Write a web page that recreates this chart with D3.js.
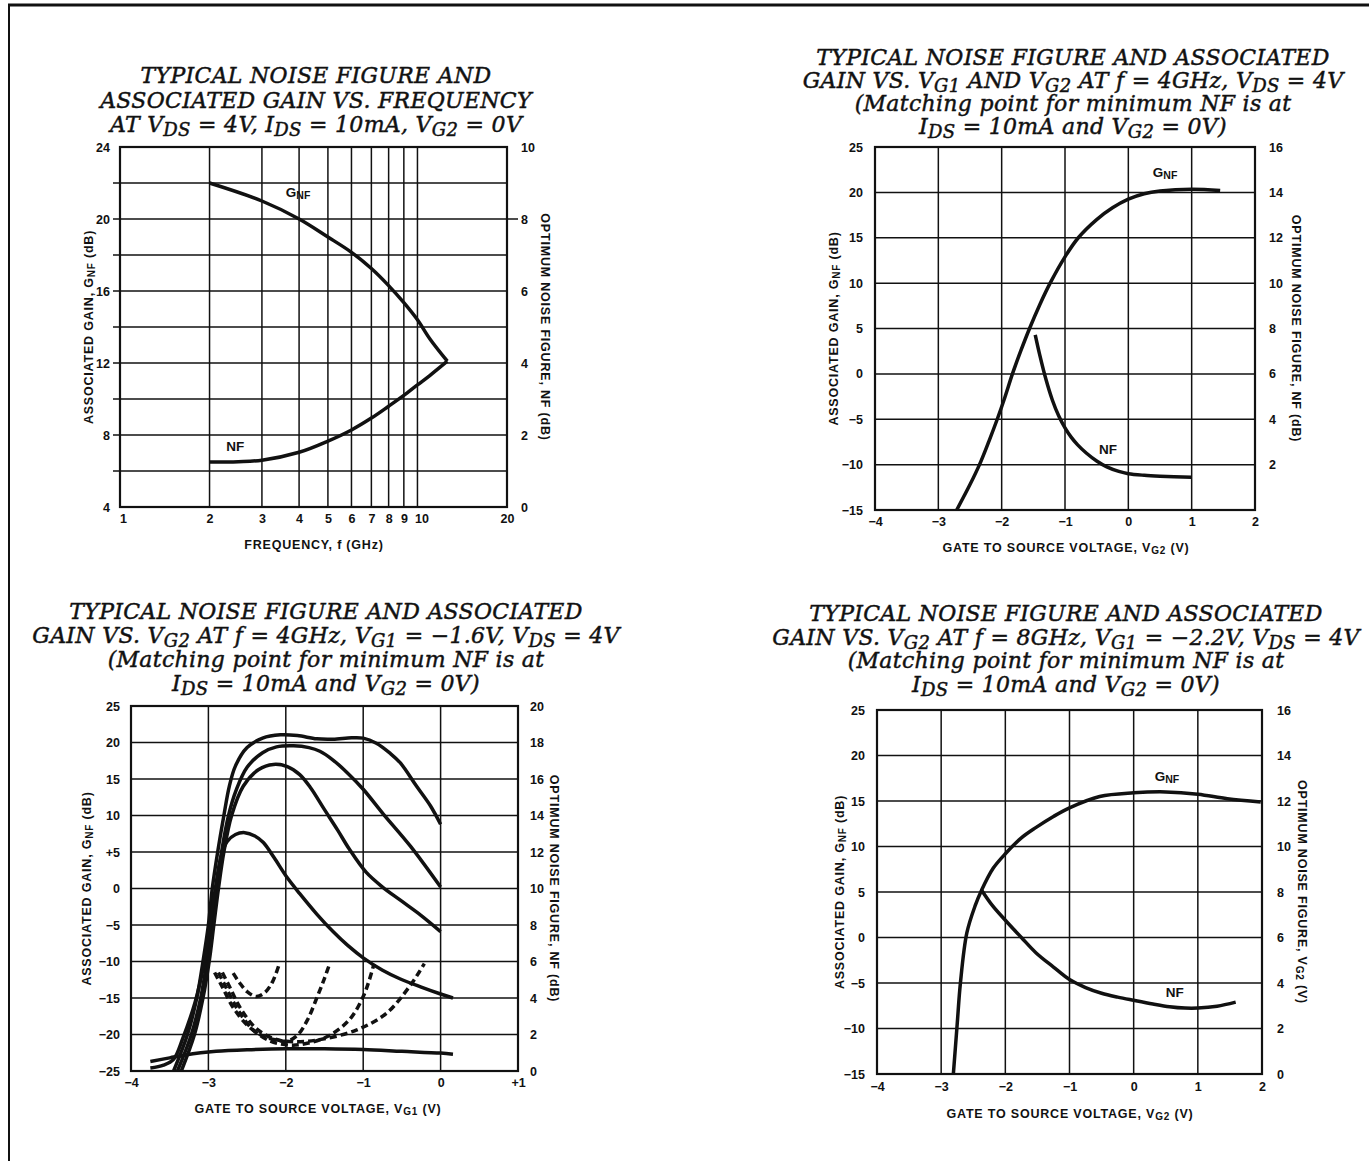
<!DOCTYPE html>
<meta charset="utf-8">
<style>
  body { margin: 0; background: #fff; }
  svg text { fill: #111; white-space: pre; }
  .tick text { font: bold 12.5px "Liberation Sans", Arial, sans-serif; }
  .tlabel { font: bold 13.5px "Liberation Sans", Arial, sans-serif; }
  .atitle { font: bold 12.5px "Liberation Sans", Arial, sans-serif; letter-spacing: 0.8px; }
  .ctitle { font: italic 22px "DejaVu Serif", serif; letter-spacing: 0.3px; stroke: #111; stroke-width: 0.45; }
  .curve { fill: none; stroke: #111; stroke-width: 3.5; }
  .grid { stroke: #111; stroke-width: 1.5; }
</style>
<svg width="1369" height="1161"></svg>
<script src="https://cdn.jsdelivr.net/npm/d3@7"></script>
<script>

// ---- top left: NF and gain vs frequency ----
const freqGain = [2, 3, 4, 5, 6, 7, 8, 9, 10, 11, 12.6];
const gnfFreq  = [22.0, 21.0, 20.0, 19.0, 18.15, 17.25, 16.3, 15.35, 14.4, 13.35, 12.1];
const freqNf   = [2, 2.5, 3, 4, 5, 6, 7, 8, 9, 10, 11, 12.6];
const nfFreq   = [1.25, 1.26, 1.3, 1.52, 1.83, 2.14, 2.47, 2.8, 3.1, 3.39, 3.65, 4.05];
const freqTicks = [1, 2, 3, 4, 5, 6, 7, 8, 9, 10, 20];

// ---- top right: vs VG2 at 4GHz ----
const vg2Gain4 = [-2.71, -2.5, -2.35, -2.2, -2.07, -1.95, -1.83, -1.7, -1.56, -1.4, -1.235, -1.0, -0.79, -0.5, -0.25, 0, 0.25, 0.5, 1.0, 1.45];
const gnf4     = [-15, -12.2, -10, -7.4, -5, -2.6, 0, 2.5, 5, 7.6, 10, 12.9, 15, 17.0, 18.3, 19.25, 19.85, 20.15, 20.35, 20.2];
const vg2Nf4   = [-1.47, -1.4, -1.3, -1.2, -1.1, -1.0, -0.9, -0.8, -0.66, -0.5, -0.34, -0.15, 0, 0.25, 0.5, 1.0];
const nf4      = [7.72, 6.85, 5.75, 4.85, 4.15, 3.62, 3.2, 2.87, 2.5, 2.16, 1.9, 1.7, 1.6, 1.53, 1.49, 1.44];

// ---- bottom left: vs VG1 (solid = gain, dashed = NF) ----
const blGainA = [[-3.45,-25],[-3.27,-20],[-3.15,-15],[-3.07,-10],[-3.0,-5],[-2.95,0],[-2.88,5],[-2.8,10],[-2.73,14],[-2.65,16.8],[-2.5,19.3],[-2.3,20.6],[-2.07,21.05],[-1.85,20.95],[-1.6,20.5],[-1.39,20.45],[-1.15,20.65],[-1.0,20.6],[-0.83,19.9],[-0.65,18.5],[-0.52,17.2],[-0.31,14.0],[-0.13,11.3],[0,8.8]];
const blGainB = [[-3.4,-25],[-3.22,-20],[-3.1,-15],[-3.02,-10],[-2.96,-5],[-2.9,0],[-2.83,5],[-2.74,10],[-2.64,13.5],[-2.5,16.6],[-2.3,18.6],[-2.12,19.4],[-1.9,19.55],[-1.7,19.3],[-1.56,18.8],[-1.39,17.6],[-1.2,15.8],[-1.0,13.6],[-0.74,10.2],[-0.39,5.8],[0,0.2]];
const blGainC = [[-3.35,-25],[-3.18,-20],[-3.07,-15],[-2.99,-10],[-2.93,-5],[-2.87,0],[-2.8,5],[-2.7,10],[-2.55,14],[-2.35,16.3],[-2.16,17.0],[-1.98,16.7],[-1.82,15.6],[-1.68,13.8],[-1.5,10.8],[-1.33,8.0],[-1.18,5.4],[-0.96,2.2],[-0.75,0.2],[-0.52,-1.6],[-0.25,-3.7],[0,-5.9]];
const blGainD = [[-3.75,-24.6],[-3.58,-24.2],[-3.45,-23.4],[-3.33,-20.5],[-3.17,-15.5],[-3.06,-10.5],[-2.98,-5],[-2.91,0],[-2.84,4.2],[-2.76,6.4],[-2.65,7.4],[-2.53,7.65],[-2.4,7.2],[-2.29,6.3],[-2.15,4.2],[-1.99,1.6],[-1.82,-0.7],[-1.6,-3.5],[-1.39,-5.9],[-1.2,-7.8],[-1.0,-9.5],[-0.75,-11.2],[-0.52,-12.4],[-0.25,-13.5],[0,-14.45],[0.16,-15.0]];
const blGainE = [[-3.75,-23.7],[-3.5,-23.2],[-3.3,-22.8],[-3.1,-22.5],[-2.9,-22.3],[-2.5,-22.1],[-2.0,-21.95],[-1.5,-21.95],[-1.0,-22.05],[-0.5,-22.3],[0,-22.55],[0.16,-22.7]];
const blNfA = [[-2.68,5.36],[-2.6,4.85],[-2.5,4.35],[-2.38,4.08],[-2.27,4.3],[-2.17,4.9],[-2.08,5.92]];
const blNfB = [[-2.92,5.4],[-2.82,4.6],[-2.68,3.48],[-2.5,2.52],[-2.3,1.92],[-2.1,1.68],[-1.98,1.64],[-1.85,1.96],[-1.72,2.8],[-1.6,4.0],[-1.5,5.08],[-1.43,5.92]];
const blNfC = [[-2.87,5.4],[-2.77,4.56],[-2.62,3.36],[-2.42,2.24],[-2.2,1.64],[-2.0,1.44],[-1.82,1.44],[-1.47,1.88],[-1.18,2.8],[-1.0,4.08],[-0.92,5.0],[-0.86,5.88]];
const blNfD = [[-2.82,5.4],[-2.72,4.56],[-2.58,3.4],[-2.38,2.32],[-2.15,1.76],[-1.9,1.6],[-1.56,1.72],[-1.09,2.24],[-0.7,3.16],[-0.4,4.64],[-0.28,5.4],[-0.21,5.88]];

// ---- bottom right: vs VG2 at 8GHz ----
const vg2Gain8 = [-2.81, -2.75, -2.7, -2.6, -2.47, -2.37, -2.19, -2.0, -1.75, -1.52, -1.25, -1.0, -0.53, 0, 0.5, 1.0, 1.46, 1.98];
const gnf8     = [-15, -9.5, -5, 0.5, 3.5, 5.2, 7.6, 9.2, 10.95, 12.1, 13.3, 14.25, 15.5, 15.9, 16.0, 15.75, 15.25, 14.9];
const vg2Nf8   = [-2.37, -2.2, -2.0, -1.75, -1.52, -1.25, -1.0, -0.75, -0.5, -0.25, 0, 0.3, 0.56, 0.8, 1.0, 1.3, 1.59];
const nf8      = [8.08, 7.4, 6.76, 6.0, 5.32, 4.7, 4.15, 3.8, 3.55, 3.38, 3.24, 3.08, 2.96, 2.9, 2.9, 2.98, 3.16];

const voltTicks = [-4, -3, -2, -1, 0, 1, 2];
const minus = v => (v < 0 ? "\u2212" + Math.abs(v) : "" + v);

var svg = d3.select("svg");

// page frame
svg.append("line").attr("x1", 8).attr("x2", 1369).attr("y1", 5).attr("y2", 5).attr("stroke", "#111").attr("stroke-width", 3);
svg.append("line").attr("x1", 9).attr("x2", 9).attr("y1", 5).attr("y2", 1161).attr("stroke", "#111").attr("stroke-width", 2);

// text with _{sub} parts
function rich(sel, str, shift, scale) {
    let low = false;
    str.split(/(_\{[^}]*\})/).filter(s => s.length).forEach(p => {
        const sub = p.startsWith("_{");
        const t = sel.append("tspan").text(sub ? p.slice(2, -1) : p);
        if (sub) {
            t.attr("font-size", scale + "em");
            if (!low) { t.attr("dy", shift); low = true; }
        } else if (low) { t.attr("dy", -shift); low = false; }
    });
}

function drawChart(c) {
    const g = svg.append("g");
    const [x0, y0, x1, y1] = c.box;
    const x = (c.log ? d3.scaleLog() : d3.scaleLinear()).domain(c.xDomain).range([x0, x1]);
    const yL = d3.scaleLinear().domain(c.yLDomain).range([y1, y0]);
    const yR = d3.scaleLinear().domain(c.yRDomain).range([y1, y0]);

    // grid
    g.selectAll("line.h").data(c.hGrid).join("line").attr("class", "grid")
        .attr("x1", x0 - (c.stub || 0)).attr("x2", x1).attr("y1", d => yL(d)).attr("y2", d => yL(d));
    g.selectAll("line.v").data(c.vGrid).join("line").attr("class", "grid")
        .attr("x1", d => x(d)).attr("x2", d => x(d)).attr("y1", y0).attr("y2", y1);
    (c.rightStub || []).forEach(v => g.append("line").attr("class", "grid")
        .attr("x1", x1).attr("x2", x1 + 11).attr("y1", yL(v)).attr("y2", yL(v)));
    g.append("rect").attr("x", x0).attr("y", y0).attr("width", x1 - x0).attr("height", y1 - y0)
        .attr("fill", "none").attr("stroke", "#111").attr("stroke-width", 2.2);

    // tick labels
    const noDomain = s => s.select(".domain").remove();
    g.append("g").attr("transform", `translate(0,${y1})`)
        .call(d3.axisBottom(x).tickValues(c.xTicks).tickFormat(c.xFmt).tickSize(0).tickPadding(c.padB))
        .call(noDomain)
        .call(s => s.selectAll("text").attr("dx", (d, i) => (c.xShift ? c.xShift[i] : 0)));
    g.append("g").attr("transform", `translate(${x0},0)`)
        .call(d3.axisLeft(yL).tickValues(c.yLTicks).tickFormat(c.yLFmt).tickSize(0).tickPadding(c.padL))
        .call(noDomain);
    g.append("g").attr("transform", `translate(${x1},0)`)
        .call(d3.axisRight(yR).tickValues(c.yRTicks).tickFormat(d3.format("d")).tickSize(0).tickPadding(c.padR))
        .call(noDomain);

    // axis titles
    const lt = g.append("text").attr("class", "atitle").attr("text-anchor", "middle")
        .attr("transform", `translate(${c.leftX},${(y0 + y1) / 2}) rotate(-90)`).attr("dy", "0.35em");
    rich(lt, "ASSOCIATED GAIN, G_{NF} (dB)", 2, 0.8);
    const rt = g.append("text").attr("class", "atitle").attr("text-anchor", "middle")
        .attr("transform", `translate(${c.rightX},${(y0 + y1) / 2}) rotate(90)`).attr("dy", "0.35em");
    rich(rt, c.rightTitle, 2, 0.8);
    const bt = g.append("text").attr("class", "atitle").attr("text-anchor", "middle")
        .attr("x", c.bottomX).attr("y", c.bottomY);
    rich(bt, c.bottomTitle, 2, 0.8);

    // chart title
    c.title.forEach((line, i) => {
        const t = g.append("text").attr("class", "ctitle").attr("text-anchor", "middle")
            .attr("x", c.titleX).attr("y", c.titleY + i * c.titleGap);
        rich(t, line, 4, 0.82);
    });

    // curves
    c.series.forEach(s => {
        const ys = s.axis === "R" ? yR : yL;
        g.append("path").attr("class", "curve")
            .attr("stroke-dasharray", s.dash ? "7,4" : null)
            .attr("d", d3.line().x(d => x(d[0])).y(d => ys(d[1])).curve(d3.curveCatmullRom.alpha(0.5))(s.pts));
    });

    // curve labels
    (c.labels || []).forEach(l => {
        const t = g.append("text").attr("class", "tlabel").attr("text-anchor", "middle")
            .attr("x", x(l.at[0])).attr("y", yL(l.at[1]));
        rich(t, l.text, 2, 0.78);
    });
}

drawChart({
    box: [120, 147, 507, 507], log: true, xDomain: [1, 20], yLDomain: [4, 24], yRDomain: [0, 10],
    hGrid: d3.range(6, 24, 2), vGrid: [2, 3, 4, 5, 6, 7, 8, 9, 10], stub: 7, rightStub: [20],
    xTicks: freqTicks, xFmt: d => d, xShift: [3, 0, 0, 0, 0, 0, 0, 0, 0, 4, 0], padB: 7,
    yLTicks: d3.range(4, 25, 4), yLFmt: d => d, padL: 10,
    yRTicks: d3.range(0, 11, 2), padR: 14,
    leftX: 89, rightX: 545, bottomX: 314, bottomY: 549,
    rightTitle: "OPTIMUM NOISE FIGURE, NF (dB)", bottomTitle: "FREQUENCY, f (GHz)",
    title: ["TYPICAL NOISE FIGURE AND", "ASSOCIATED GAIN VS. FREQUENCY", "AT V_{DS} = 4V, I_{DS} = 10mA, V_{G2} = 0V"],
    titleX: 316, titleY: 83, titleGap: 24.5,
    series: [
        { pts: d3.zip(freqGain, gnfFreq), axis: "L" },
        { pts: d3.zip(freqNf, nfFreq), axis: "R" }
    ],
    labels: [{ text: "G_{NF}", at: [3.97, 21.2] }, { text: "NF", at: [2.44, 7.1] }]
});

drawChart({
    box: [875, 147, 1255, 510], xDomain: [-4, 2], yLDomain: [-15, 25], yRDomain: [0, 16],
    hGrid: d3.range(-10, 25, 5), vGrid: [-3, -2, -1, 0, 1],
    xTicks: voltTicks, xFmt: minus, padB: 7,
    yLTicks: d3.range(-15, 26, 5), yLFmt: minus, padL: 12,
    yRTicks: d3.range(2, 17, 2), padR: 14,
    leftX: 834, rightX: 1296, bottomX: 1066, bottomY: 552,
    rightTitle: "OPTIMUM NOISE FIGURE, NF (dB)", bottomTitle: "GATE TO SOURCE VOLTAGE, V_{G2} (V)",
    title: ["TYPICAL NOISE FIGURE AND ASSOCIATED", "GAIN VS. V_{G1} AND V_{G2} AT f = 4GHz, V_{DS} = 4V",
            "(Matching point for minimum NF is at", "I_{DS} = 10mA and V_{G2} = 0V)"],
    titleX: 1073, titleY: 65, titleGap: 23,
    series: [
        { pts: d3.zip(vg2Gain4, gnf4), axis: "L" },
        { pts: d3.zip(vg2Nf4, nf4), axis: "R" }
    ],
    labels: [{ text: "G_{NF}", at: [0.58, 21.7] }, { text: "NF", at: [-0.32, -8.8] }]
});

drawChart({
    box: [131, 706, 518, 1071], xDomain: [-4, 1], yLDomain: [-25, 25], yRDomain: [0, 20],
    hGrid: d3.range(-20, 25, 5), vGrid: [-3, -2, -1, 0],
    xTicks: [-4, -3, -2, -1, 0, 1], xFmt: d => (d > 0 ? "+" + d : minus(d)), padB: 7,
    yLTicks: d3.range(-25, 26, 5), yLFmt: d => (d === 5 ? "+5" : minus(d)), padL: 11,
    yRTicks: d3.range(0, 21, 2), padR: 12,
    leftX: 87, rightX: 554, bottomX: 318, bottomY: 1113,
    rightTitle: "OPTIMUM NOISE FIGURE, NF (dB)", bottomTitle: "GATE TO SOURCE VOLTAGE, V_{G1} (V)",
    title: ["TYPICAL NOISE FIGURE AND ASSOCIATED", "GAIN VS. V_{G2} AT f = 4GHz, V_{G1} = \u22121.6V, V_{DS} = 4V",
            "(Matching point for minimum NF is at", "I_{DS} = 10mA and V_{G2} = 0V)"],
    titleX: 326, titleY: 619, titleGap: 24,
    series: [
        { pts: blGainA, axis: "L" }, { pts: blGainB, axis: "L" }, { pts: blGainC, axis: "L" },
        { pts: blGainD, axis: "L" }, { pts: blGainE, axis: "L" },
        { pts: blNfA, axis: "R", dash: true }, { pts: blNfB, axis: "R", dash: true },
        { pts: blNfC, axis: "R", dash: true }, { pts: blNfD, axis: "R", dash: true }
    ]
});

drawChart({
    box: [877, 710, 1262, 1074], xDomain: [-4, 2], yLDomain: [-15, 25], yRDomain: [0, 16],
    hGrid: d3.range(-10, 25, 5), vGrid: [-3, -2, -1, 0, 1],
    xTicks: voltTicks, xFmt: minus, padB: 8,
    yLTicks: d3.range(-15, 26, 5), yLFmt: minus, padL: 12,
    yRTicks: d3.range(0, 17, 2), padR: 15,
    leftX: 840, rightX: 1302, bottomX: 1070, bottomY: 1118,
    rightTitle: "OPTIMUM NOISE FIGURE, V_{G2} (V)", bottomTitle: "GATE TO SOURCE VOLTAGE, V_{G2} (V)",
    title: ["TYPICAL NOISE FIGURE AND ASSOCIATED", "GAIN VS. V_{G2} AT f = 8GHz, V_{G1} = \u22122.2V, V_{DS} = 4V",
            "(Matching point for minimum NF is at", "I_{DS} = 10mA and V_{G2} = 0V)"],
    titleX: 1066, titleY: 621, titleGap: 23.7,
    series: [
        { pts: d3.zip(vg2Gain8, gnf8), axis: "L" },
        { pts: d3.zip(vg2Nf8, nf8), axis: "R" }
    ],
    labels: [{ text: "G_{NF}", at: [0.52, 17.2] }, { text: "NF", at: [0.64, -6.5] }]
});

</script>
